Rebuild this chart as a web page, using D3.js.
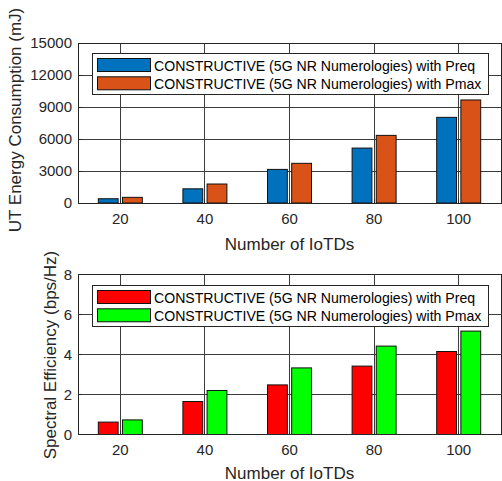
<!DOCTYPE html>
<html>
<head>
<meta charset="utf-8">
<script src="https://cdn.jsdelivr.net/npm/d3@7"></script>
<style>
  html, body { margin: 0; padding: 0; background: #fff; }
  svg { display: block; font-family: "Liberation Sans", Arial, sans-serif; }
</style>
</head>
<body>
<svg id="chart" width="502" height="481"></svg>
<script>
// Number of IoT devices on the x axis
const categories = ["20", "40", "60", "80", "100"];

// UT energy consumption (mJ)
const energyPreq = [400, 1330, 3150, 5150, 8030];
const energyPmax = [530, 1780, 3720, 6340, 9660];
const energyTicks = [0, 3000, 6000, 9000, 12000, 15000];

// Spectral efficiency (bps/Hz)
const sePreq = [0.62, 1.65, 2.48, 3.42, 4.15];
const sePmax = [0.73, 2.2, 3.33, 4.42, 5.17];
const seTicks = [0, 2, 4, 6, 8];

const seriesNames = [
  "CONSTRUCTIVE (5G NR Numerologies) with Preq",
  "CONSTRUCTIVE (5G NR Numerologies) with Pmax"
];

const svg = d3.select("#chart");

function drawPanel(cfg) {
  const { top, bottom, left, right, values, colors, ticks, yMax, yLabel, yLabelX, yLabelY, xLabelDy, legendBox } = cfg;
  const g = svg.append("g");

  const x = d3.scaleBand().domain(categories).range([left, right]).padding(0);
  const inner = d3.scaleBand().domain([0, 1]).range([-22, 22]).paddingInner(0.18);
  const y = d3.scaleLinear().domain([0, yMax]).range([bottom, top]);

  // grid lines
  g.append("g").selectAll("line.hg").data(ticks).join("line")
    .attr("x1", left).attr("x2", right)
    .attr("y1", d => y(d)).attr("y2", d => y(d))
    .attr("stroke", "#3c3c3c").attr("stroke-width", 1).attr("shape-rendering", "crispEdges");
  g.append("g").selectAll("line.vg").data(categories).join("line")
    .attr("x1", d => x(d) + x.bandwidth() / 2).attr("x2", d => x(d) + x.bandwidth() / 2)
    .attr("y1", top).attr("y2", bottom)
    .attr("stroke", "#3c3c3c").attr("stroke-width", 1).attr("shape-rendering", "crispEdges");

  // bars
  values.forEach((vals, si) => {
    g.append("g").selectAll("rect").data(vals).join("rect")
      .attr("x", (d, i) => x(categories[i]) + x.bandwidth() / 2 + inner(si))
      .attr("width", inner.bandwidth())
      .attr("y", d => y(d))
      .attr("height", d => y(0) - y(d))
      .attr("fill", colors[si])
      .attr("stroke", "#111").attr("stroke-width", 1);
  });

  // box
  g.append("rect")
    .attr("x", left).attr("y", top)
    .attr("width", right - left).attr("height", bottom - top)
    .attr("fill", "none").attr("stroke", "#262626").attr("stroke-width", 1)
    .attr("shape-rendering", "crispEdges");

  // axes
  const xAxis = d3.axisBottom(x).tickSize(0).tickPadding(10);
  const xg = g.append("g").attr("transform", `translate(0,${bottom})`).call(xAxis);
  xg.select(".domain").remove();
  xg.selectAll("text").attr("font-size", 15).attr("fill", "#262626")
    .attr("font-family", "Liberation Sans, Arial, sans-serif");

  const yAxis = d3.axisLeft(y).tickValues(ticks).tickFormat(d3.format("d")).tickSize(0).tickPadding(6);
  const yg = g.append("g").attr("transform", `translate(${left},0)`).call(yAxis);
  yg.select(".domain").remove();
  yg.selectAll("text").attr("font-size", 15).attr("fill", "#262626")
    .attr("font-family", "Liberation Sans, Arial, sans-serif");

  // inward tick marks
  g.append("g").selectAll("line").data(ticks).join("line")
    .attr("x1", left).attr("x2", left + 4)
    .attr("y1", d => y(d)).attr("y2", d => y(d))
    .attr("stroke", "#262626").attr("shape-rendering", "crispEdges");
  g.append("g").selectAll("line").data(categories).join("line")
    .attr("x1", d => x(d) + x.bandwidth() / 2).attr("x2", d => x(d) + x.bandwidth() / 2)
    .attr("y1", bottom).attr("y2", bottom - 4)
    .attr("stroke", "#262626").attr("shape-rendering", "crispEdges");

  // axis titles
  g.append("text")
    .attr("x", (left + right) / 2).attr("y", bottom + xLabelDy)
    .attr("text-anchor", "middle").attr("font-size", 17).attr("fill", "#262626")
    .text("Number of IoTDs");
  g.append("text")
    .attr("transform", `translate(${yLabelX},${yLabelY}) rotate(-90)`)
    .attr("text-anchor", "middle").attr("font-size", 17).attr("fill", "#262626")
    .text(yLabel);

  // legend
  const lg = g.append("g");
  lg.append("rect")
    .attr("x", legendBox.x).attr("y", legendBox.y)
    .attr("width", legendBox.w).attr("height", legendBox.h)
    .attr("fill", "#fff").attr("stroke", "#262626").attr("stroke-width", 1)
    .attr("shape-rendering", "crispEdges");
  seriesNames.forEach((name, i) => {
    const yy = legendBox.y + 5 + i * 18.3;
    lg.append("rect")
      .attr("x", legendBox.x + 5.5).attr("y", yy)
      .attr("width", 53).attr("height", 13)
      .attr("fill", colors[i]).attr("stroke", "#111").attr("stroke-width", 1);
    lg.append("text")
      .attr("x", legendBox.x + 62).attr("y", yy + 12.5)
      .attr("font-size", 14.1).attr("fill", "#000")
      .text(name);
  });
}

drawPanel({
  top: 43, bottom: 203, left: 78, right: 501,
  values: [energyPreq, energyPmax],
  colors: ["#0072BD", "#D95319"],
  ticks: energyTicks, yMax: 15000,
  yLabel: "UT Energy Consumption (mJ)", yLabelX: 21, yLabelY: 120, xLabelDy: 47,
  legendBox: { x: 92, y: 53.5, w: 396, h: 41 }
});

drawPanel({
  top: 274.5, bottom: 434.5, left: 78, right: 501,
  values: [sePreq, sePmax],
  colors: ["#FF0000", "#00FF00"],
  ticks: seTicks, yMax: 8,
  yLabel: "Spectral Efficiency (bps/Hz)", yLabelX: 56, yLabelY: 355, xLabelDy: 44,
  legendBox: { x: 92, y: 285.5, w: 396, h: 41 }
});
</script>
</body>
</html>
